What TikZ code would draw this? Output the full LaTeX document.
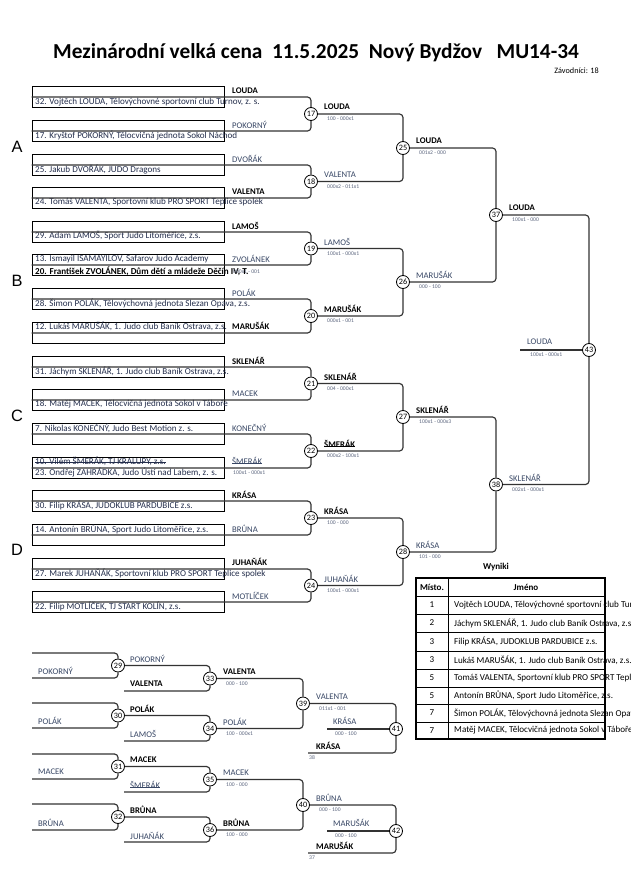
\documentclass[tikz,border=0pt]{standalone}
\usepackage{fontspec}
\setmainfont{Carlito}
\newfontfamily\arialfont{Liberation Sans}
\newsavebox{\strkbox}
\newcommand{\strk}[1]{\sbox{\strkbox}{#1}\rlap{\raisebox{0.3ex}{\rule{\wd\strkbox}{0.45pt}}}\usebox{\strkbox}}
\definecolor{fullcol}{RGB}{35,45,75}
\definecolor{namecol}{RGB}{55,70,100}
\definecolor{scorecol}{RGB}{90,100,125}
\begin{document}
\begin{tikzpicture}[x=0.03cm, y=-0.03cm,
    entry/.style={draw, line width=0.6pt, minimum width=5.76cm, minimum height=0.63cm, inner sep=0pt},
    full/.style={anchor=west, inner sep=0pt, text=fullcol, font=\fontsize{7.75}{8}\selectfont},
    nm/.style={anchor=west, inner sep=0pt, text=namecol, font=\fontsize{7.4}{8}\selectfont},
    win/.style={anchor=west, inner sep=0pt, text=black, font=\fontsize{7.4}{8}\selectfont\bfseries},
    score/.style={anchor=west, inner sep=0pt, text=scorecol, font=\fontsize{4.8}{5}\selectfont},
    mnum/.style={circle, draw, fill=white, line width=0.7pt, minimum size=0.39cm, inner sep=0pt,
                 font=\fontsize{7}{8}\selectfont},
    bline/.style={line width=1pt, draw=black!80, rounded corners=3pt},
    cell/.style={font=\fontsize{7.7}{8}\selectfont},
    group/.style={font=\arialfont\fontsize{14}{16}\selectfont}]
  \useasboundingbox (0,0) rectangle (630,891);

  % ── Titulek ──────────────────────────────────────────────────────
  \node[font=\fontsize{18.2}{21}\selectfont\bfseries] (title) at (316,53)
    {Mezinárodní velká cena\ \ 11.5.2025\ \ Nový Bydžov\ \ \ MU14-34};
  \node[anchor=east, inner sep=0pt, font=\fontsize{7}{8}\selectfont] (count) at (599,71) {Závodníci: 18};

  \node[group] (gA) at (17,147) {A};
  \node[group] (gB) at (17,281) {B};
  \node[group] (gC) at (17,416) {C};
  \node[group] (gD) at (17,550) {D};

  % ── Skupina A ────────────────────────────────────────────────────
  \node[entry] (e1) at (128,97) {};
  \node[full] (f1) at (35,102) {32. Vojtěch LOUDA, Tělovýchovné sportovní club Turnov, z. s.};
  \node[win] (n1) at (232,91) {LOUDA};
  \node[entry] (e2) at (128,131) {};
  \node[full] (f2) at (35,135) {17. Kryštof POKORNÝ, Tělocvičná jednota Sokol Náchod};
  \node[nm] (n2) at (232,125) {POKORNÝ};
  \node[entry] (e3) at (128,165) {};
  \node[full] (f3) at (35,169) {25. Jakub DVOŘÁK, JUDO Dragons};
  \node[nm] (n3) at (232,159) {DVOŘÁK};
  \node[entry] (e4) at (128,198) {};
  \node[full] (f4) at (35,202) {24. Tomáš VALENTA, Sportovní klub PRO SPORT Teplice spolek};
  \node[win] (n4) at (232,192) {VALENTA};

  % ── Skupina B ────────────────────────────────────────────────────
  \node[entry] (e5) at (128,232) {};
  \node[full] (f5) at (35,236) {29. Adam LAMOŠ, Sport Judo Litoměřice, z.s.};
  \node[win] (n5) at (232,226) {LAMOŠ};
  \node[entry] (e6) at (128,265) {};
  \node[full] (f6a) at (35,259) {13. Ismayil ISAMAYILOV, Safarov Judo Academy};
  \node[full, font=\fontsize{7.75}{8}\selectfont\bfseries, text=black] (f6b) at (35,271)
    {20. František ZVOLÁNEK, Dům dětí a mládeže Děčín IV, T.};
  \node[score] (s6) at (233,272) {000x1 - 001};
  \node[nm] (n6) at (232,259) {ZVOLÁNEK};
  \node[entry] (e7) at (128,299) {};
  \node[full] (f7) at (35,303) {28. Šimon POLÁK, Tělovýchovná jednota Slezan Opava, z.s.};
  \node[nm] (n7) at (232,293) {POLÁK};
  \node[entry] (e8) at (128,333) {};
  \node[full] (f8) at (35,326) {12. Lukáš MARUŠÁK, 1. Judo club Baník Ostrava, z.s.};
  \node[win] (n8) at (232,326) {MARUŠÁK};

  % ── Skupina C ────────────────────────────────────────────────────
  \node[entry] (e9) at (128,367) {};
  \node[full] (f9) at (35,371) {31. Jáchym SKLENÁŘ, 1. Judo club Baník Ostrava, z.s.};
  \node[win] (n9) at (232,361) {SKLENÁŘ};
  \node[entry] (e10) at (128,400) {};
  \node[full] (f10) at (35,404) {18. Matěj MACEK, Tělocvičná jednota Sokol v Táboře};
  \node[nm] (n10) at (232,394) {MACEK};
  \node[entry] (e11) at (128,434) {};
  \node[full] (f11) at (35,428) {7. Nikolas KONEČNÝ, Judo Best Motion z. s.};
  \node[nm] (n11) at (232,428) {KONEČNÝ};
  \node[entry] (e12) at (128,468) {};
  \node[full] (f12a) at (35,461) {\strk{10. Vilém ŠMERÁK, TJ KRALUPY, z.s.}};
  \node[full] (f12b) at (35,472) {23. Ondřej ZAHRÁDKA, Judo Ústí nad Labem, z. s.};
  \node[score] (s12) at (233,473) {100x1 - 000x1};
  \node[nm] (n12) at (232,461) {\strk{ŠMERÁK}};

  % ── Skupina D ────────────────────────────────────────────────────
  \node[entry] (e13) at (128,501) {};
  \node[full] (f13) at (35,505) {30. Filip KRÁSA, JUDOKLUB PARDUBICE z.s.};
  \node[win] (n13) at (232,495) {KRÁSA};
  \node[entry] (e14) at (128,535) {};
  \node[full] (f14) at (35,529) {14. Antonín BRŮNA, Sport Judo Litoměřice, z.s.};
  \node[nm] (n14) at (232,529) {BRŮNA};
  \node[entry] (e15) at (128,569) {};
  \node[full] (f15) at (35,573) {27. Marek JUHAŇÁK, Sportovní klub PRO SPORT Teplice spolek};
  \node[win] (n15) at (232,562) {JUHAŇÁK};
  \node[entry] (e16) at (128,602) {};
  \node[full] (f16) at (35,606) {22. Filip MOTLÍČEK, TJ START KOLÍN, z.s.};
  \node[nm] (n16) at (232,596) {MOTLÍČEK};

  % ── 2. kolo ──────────────────────────────────────────────────────
  \node[mnum] (m17) at (311,114) {17};
  \node[mnum] (m18) at (311,181.5) {18};
  \node[mnum] (m19) at (311,248.5) {19};
  \node[mnum] (m20) at (311,316) {20};
  \node[mnum] (m21) at (311,383.5) {21};
  \node[mnum] (m22) at (311,451) {22};
  \node[mnum] (m23) at (311,518) {23};
  \node[mnum] (m24) at (311,585.5) {24};
  \draw[bline] (e1.west) -| (m17.north);  \draw[bline] (e2.west) -| (m17.south);
  \draw[bline] (e3.west) -| (m18.north);  \draw[bline] (e4.west) -| (m18.south);
  \draw[bline] (e5.west) -| (m19.north);  \draw[bline] (e6.west) -| (m19.south);
  \draw[bline] (e7.west) -| (m20.north);  \draw[bline] (e8.west) -| (m20.south);
  \draw[bline] (e9.west) -| (m21.north);  \draw[bline] (e10.west) -| (m21.south);
  \draw[bline] (e11.west) -| (m22.north); \draw[bline] (e12.west) -| (m22.south);
  \draw[bline] (e13.west) -| (m23.north); \draw[bline] (e14.west) -| (m23.south);
  \draw[bline] (e15.west) -| (m24.north); \draw[bline] (e16.west) -| (m24.south);

  \node[win] (w17) at (324,107) {LOUDA};          \node[score] (s17) at (327,119) {100 - 000x1};
  \node[nm] (w18) at (324,174.5) {VALENTA};       \node[score] (s18) at (327,186.5) {000x2 - 011x1};
  \node[nm] (w19) at (324,241.5) {LAMOŠ};         \node[score] (s19) at (327,253.5) {100x1 - 000x1};
  \node[win] (w20) at (324,309) {MARUŠÁK};        \node[score] (s20) at (327,321) {000x1 - 001};
  \node[win] (w21) at (324,376.5) {SKLENÁŘ};      \node[score] (s21) at (327,388.5) {004 - 000x1};
  \node[win] (w22) at (324,444) {\strk{ŠMERÁK}};  \node[score] (s22) at (327,456) {000x2 - 100x1};
  \node[win] (w23) at (324,511) {KRÁSA};          \node[score] (s23) at (327,523) {100 - 000};
  \node[nm] (w24) at (324,578.5) {JUHAŇÁK};       \node[score] (s24) at (327,590.5) {100x1 - 000x1};

  % ── 3. kolo ──────────────────────────────────────────────────────
  \node[mnum] (m25) at (403,148) {25};
  \node[mnum] (m26) at (403,282) {26};
  \node[mnum] (m27) at (403,417) {27};
  \node[mnum] (m28) at (403,552) {28};
  \draw[bline] (m17.east) -| (m25.north); \draw[bline] (m18.east) -| (m25.south);
  \draw[bline] (m19.east) -| (m26.north); \draw[bline] (m20.east) -| (m26.south);
  \draw[bline] (m21.east) -| (m27.north); \draw[bline] (m22.east) -| (m27.south);
  \draw[bline] (m23.east) -| (m28.north); \draw[bline] (m24.east) -| (m28.south);

  \node[win] (w25) at (416,141) {LOUDA};    \node[score] (s25) at (419,153) {001x2 - 000};
  \node[nm] (w26) at (416,275) {MARUŠÁK};   \node[score] (s26) at (419,287) {000 - 100};
  \node[win] (w27) at (416,410) {SKLENÁŘ};  \node[score] (s27) at (419,422) {100x1 - 000x3};
  \node[nm] (w28) at (416,545) {KRÁSA};     \node[score] (s28) at (419,557) {101 - 000};

  % ── Semifinále a finále ──────────────────────────────────────────
  \node[mnum] (m37) at (496,215) {37};
  \node[mnum] (m38) at (496,484.5) {38};
  \draw[bline] (m25.east) -| (m37.north); \draw[bline] (m26.east) -| (m37.south);
  \draw[bline] (m27.east) -| (m38.north); \draw[bline] (m28.east) -| (m38.south);
  \node[win] (w37) at (509,208) {LOUDA};    \node[score] (s37) at (512,220) {100x1 - 000};
  \node[nm] (w38) at (509,477.5) {SKLENÁŘ}; \node[score] (s38) at (512,489.5) {002x1 - 000x1};

  \node[mnum] (m43) at (589,350) {43};
  \coordinate (fin) at (520,350);
  \draw[bline] (m37.east) -| (m43.north); \draw[bline] (m38.east) -| (m43.south);
  \draw[bline] (fin) -- (m43.west);
  \node[nm] (w43) at (527,342) {LOUDA};     \node[score] (s43) at (530,355) {100x1 - 000x1};

  % ── Opravy (repasáž) ─────────────────────────────────────────────
  \coordinate (r29a) at (32,653);  \coordinate (r29b) at (32,678);
  \coordinate (r30a) at (32,703);  \coordinate (r30b) at (32,728);
  \coordinate (r31a) at (32,754);  \coordinate (r31b) at (32,779);
  \coordinate (r32a) at (32,804);  \coordinate (r32b) at (32,830);
  \node[mnum] (m29) at (118,665.5) {29};
  \node[mnum] (m30) at (118,715.5) {30};
  \node[mnum] (m31) at (118,766.5) {31};
  \node[mnum] (m32) at (118,817) {32};
  \draw[bline] (r29a) -| (m29.north); \draw[bline] (r29b) -| (m29.south);
  \draw[bline] (r30a) -| (m30.north); \draw[bline] (r30b) -| (m30.south);
  \draw[bline] (r31a) -| (m31.north); \draw[bline] (r31b) -| (m31.south);
  \draw[bline] (r32a) -| (m32.north); \draw[bline] (r32b) -| (m32.south);
  \node[nm] (p29) at (38,671) {POKORNÝ};
  \node[nm] (p30) at (38,721) {POLÁK};
  \node[nm] (p31) at (38,772) {MACEK};
  \node[nm] (p32) at (38,823) {BRŮNA};

  \coordinate (r33) at (124,691);  \coordinate (r34) at (124,741);
  \coordinate (r35) at (124,792);  \coordinate (r36) at (124,842);
  \node[mnum] (m33) at (210,678.5) {33};
  \node[mnum] (m34) at (210,728.5) {34};
  \node[mnum] (m35) at (210,779.5) {35};
  \node[mnum] (m36) at (210,830) {36};
  \draw[bline] (m29.east) -| (m33.north); \draw[bline] (r33) -| (m33.south);
  \draw[bline] (m30.east) -| (m34.north); \draw[bline] (r34) -| (m34.south);
  \draw[bline] (m31.east) -| (m35.north); \draw[bline] (r35) -| (m35.south);
  \draw[bline] (m32.east) -| (m36.north); \draw[bline] (r36) -| (m36.south);
  \node[nm] (q29) at (130,659) {POKORNÝ};  \node[win] (q33) at (130,684) {VALENTA};
  \node[win] (q30) at (130,709) {POLÁK};   \node[nm] (q34) at (130,734) {LAMOŠ};
  \node[win] (q31) at (130,760) {MACEK};   \node[nm] (q35) at (130,785) {\strk{ŠMERÁK}};
  \node[win] (q32) at (130,810) {BRŮNA};   \node[nm] (q36) at (130,836) {JUHAŇÁK};

  \node[mnum] (m39) at (303,703.5) {39};
  \node[mnum] (m40) at (303,805) {40};
  \draw[bline] (m33.east) -| (m39.north); \draw[bline] (m34.east) -| (m39.south);
  \draw[bline] (m35.east) -| (m40.north); \draw[bline] (m36.east) -| (m40.south);
  \node[win] (w33) at (223,671.5) {VALENTA}; \node[score] (s33) at (226,683.5) {000 - 100};
  \node[nm] (w34) at (223,721.5) {POLÁK};    \node[score] (s34) at (226,733.5) {100 - 000x1};
  \node[nm] (w35) at (223,772.5) {MACEK};    \node[score] (s35) at (226,784.5) {100 - 000};
  \node[win] (w36) at (223,823) {BRŮNA};     \node[score] (s36) at (226,835) {100 - 000};

  \node[mnum] (m41) at (396,729) {41};
  \node[mnum] (m42) at (396,831) {42};
  \coordinate (k41) at (308,753);  \coordinate (i41) at (327,729);
  \coordinate (k42) at (308,853);  \coordinate (i42) at (327,831);
  \draw[bline] (m39.east) -| (m41.north); \draw[bline] (k41) -| (m41.south);
  \draw[bline] (i41) -- (m41.west);
  \draw[bline] (m40.east) -| (m42.north); \draw[bline] (k42) -| (m42.south);
  \draw[bline] (i42) -- (m42.west);
  \node[nm] (w39) at (316,696.5) {VALENTA};  \node[score] (s39) at (319,708.5) {011x1 - 001};
  \node[nm] (w41) at (333,721) {KRÁSA};      \node[score] (s41) at (335,734) {000 - 100};
  \node[win] (b41) at (316,746) {KRÁSA};     \node[score] (t41) at (309,758) {38};
  \node[nm] (w40) at (316,798) {BRŮNA};      \node[score] (s40) at (319,810) {000 - 100};
  \node[nm] (w42) at (333,823) {MARUŠÁK};    \node[score] (s42) at (335,836) {000 - 100};
  \node[win] (b42) at (316,846) {MARUŠÁK};   \node[score] (t42) at (309,858) {37};

  % ── Výsledky ─────────────────────────────────────────────────────
  \node[font=\fontsize{7.7}{8}\selectfont\bfseries] (wyn) at (496,567) {Wyniki};
  \begin{scope}
    \clip (0,0) rectangle (630,891);
    \draw[line width=0.6pt] (416,596) -- (605,596);
    \draw[line width=0.6pt] (416,614) -- (605,614) (416,632) -- (605,632)
      (416,651) -- (605,651) (416,669) -- (605,669) (416,687) -- (605,687)
      (416,704) -- (605,704) (416,722) -- (605,722);
    \draw[line width=0.6pt] (448,578) -- (448,739);
    \node[cell, font=\fontsize{7.7}{8}\selectfont\bfseries] (hplace) at (432,587) {Místo.};
    \node[cell, font=\fontsize{7.7}{8}\selectfont\bfseries] (hname) at (526,587) {Jméno};
    \node[cell] (p1) at (432,605) {1};
    \node[full, text=black] (r1) at (454,605) {Vojtěch LOUDA, Tělovýchovné sportovní club Turnov, z. s.};
    \node[cell] (p2) at (432,623) {2};
    \node[full, text=black] (r2) at (454,623) {Jáchym SKLENÁŘ, 1. Judo club Baník Ostrava, z.s.};
    \node[cell] (p3) at (432,641.5) {3};
    \node[full, text=black] (r3) at (454,641.5) {Filip KRÁSA, JUDOKLUB PARDUBICE z.s.};
    \node[cell] (p4) at (432,660) {3};
    \node[full, text=black] (r4) at (454,660) {Lukáš MARUŠÁK, 1. Judo club Baník Ostrava, z.s.};
    \node[cell] (p5) at (432,678) {5};
    \node[full, text=black] (r5) at (454,678) {Tomáš VALENTA, Sportovní klub PRO SPORT Teplice spolek};
    \node[cell] (p6) at (432,695.5) {5};
    \node[full, text=black] (r6) at (454,695.5) {Antonín BRŮNA, Sport Judo Litoměřice, z.s.};
    \node[cell] (p7) at (432,713) {7};
    \node[full, text=black] (r7) at (454,713) {Šimon POLÁK, Tělovýchovná jednota Slezan Opava, z.s.};
    \node[cell] (p8) at (432,730.5) {7};
    \node[full, text=black] (r8) at (454,730.5) {Matěj MACEK, Tělocvičná jednota Sokol v Táboře};
    \draw[line width=1.4pt] (416,578) rectangle (605,739);
  \end{scope}
\end{tikzpicture}
\end{document}
